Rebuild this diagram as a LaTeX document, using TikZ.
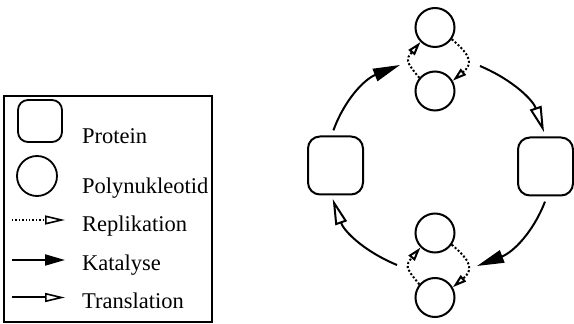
\documentclass[tikz,border=0pt]{standalone}
\usepackage{fontspec}
\setmainfont{Liberation Serif}
\usetikzlibrary{arrows.meta}
\begin{document}
\begin{tikzpicture}[x=1pt,y=1pt,
  protein/.style={draw, line width=2pt, rounded corners=12pt,
    minimum width=55pt, minimum height=58pt, inner sep=0pt},
  polynuc/.style={draw, circle, line width=2pt, minimum size=39pt, inner sep=0pt},
  legtext/.style={anchor=base west, inner sep=0pt, font=\fontsize{22.5}{27}\selectfont},
  katalyse/.style={line width=2pt, -{Triangle[length=27pt, width=13pt]}},
  translation/.style={line width=2pt, -{Triangle[open, length=26pt, width=12pt]}},
  replikation/.style={line width=2pt, dotted, -{Triangle[open, length=14pt, width=8pt]}},
]
\useasboundingbox (0,0) rectangle (574,324);

% ---- legend ----
\draw[line width=1.5pt] (4,2) rectangle (212,228);
\node[draw, line width=1.8pt, rounded corners=10pt, minimum width=44pt,
  minimum height=42pt, inner sep=0pt] (legP) at (40,203) {};
\node[draw, circle, line width=1.8pt, minimum size=40pt, inner sep=0pt] (legN) at (37,148) {};
\node[legtext] (tP) at (82,180) {Protein};
\node[legtext] (tN) at (82,130) {Polynukleotid};
\node[legtext] (tR) at (82,92) {Replikation};
\node[legtext] (tK) at (82,53) {Katalyse};
\node[legtext] (tT) at (82,15) {Translation};
\coordinate (rA) at (12,104);  \coordinate (rB) at (65,104);
\coordinate (kA) at (12,64);   \coordinate (kB) at (65,64);
\coordinate (trA) at (12,26.5); \coordinate (trB) at (65,26.5);
\draw[line width=1.4pt, dotted, -{Triangle[open, length=20pt, width=9pt, line width=1.6pt]}] (rA) -- (rB);
\draw[line width=2pt, -{Triangle[length=20pt, width=11pt]}] (kA) -- (kB);
\draw[line width=2pt, -{Triangle[open, length=20pt, width=9pt, line width=1.6pt]}] (trA) -- (trB);

% ---- cycle ----
\node[protein] (P1) at (335.5,158.5) {};
\node[protein] (P2) at (545.5,157.5) {};
\node[polynuc] (T1) at (435,296.5) {};
\node[polynuc] (T2) at (435,233) {};
\node[polynuc] (B1) at (435,91) {};
\node[polynuc] (B2) at (435,26.5) {};

% replication within each pair
\draw[replikation] (T1.-35) to[out=-40, in=40, looseness=1.6] (T2.30);
\draw[replikation] (T2.140) to[out=130, in=-130, looseness=1.6] (T1.225);
\draw[replikation] (B1.-35) to[out=-40, in=40, looseness=1.6] (B2.30);
\draw[replikation] (B2.140) to[out=130, in=-130, looseness=1.6] (B1.225);

% catalysis and translation around the cycle
\coordinate (k1) at (400,259);
\coordinate (t1) at (480,258);
\coordinate (k2) at (477,58);
\coordinate (t2) at (397,59);
\draw[katalyse, shorten <=5.5pt] ([xshift=-4pt]P1.north) to[bend left=24] (k1);
\draw[translation, shorten >=4.5pt] (t1) to[bend left=24] (P2.north);
\draw[katalyse, shorten <=5.5pt] ([xshift=1.5pt]P2.south) to[bend left=24] (k2);
\draw[translation, shorten >=3.5pt] (t2) to[bend left=24] ([xshift=-4pt]P1.south);
\end{tikzpicture}
\end{document}
